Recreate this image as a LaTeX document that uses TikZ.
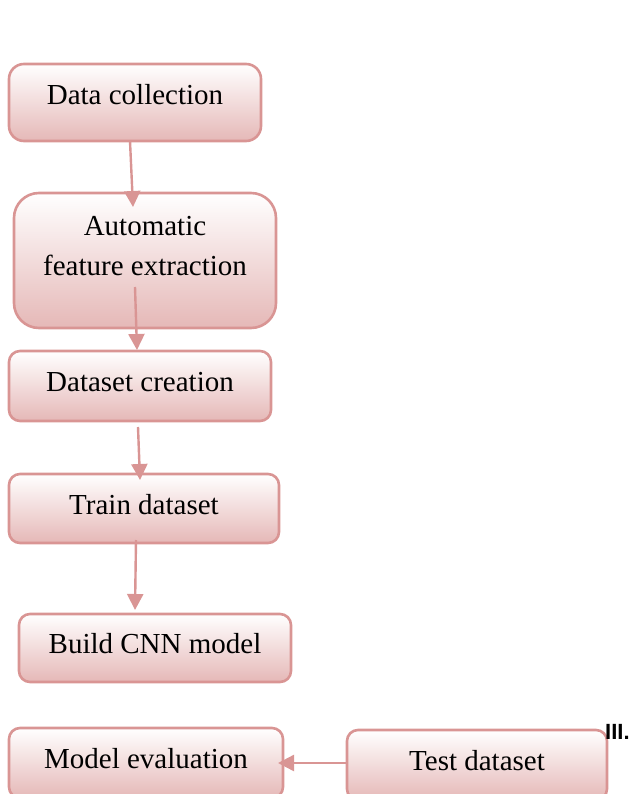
\documentclass[tikz,border=0pt]{standalone}
\usepackage{fontspec}
\setmainfont{Liberation Serif}
\newfontfamily\labsans{Liberation Sans}
\usetikzlibrary{calc,arrows.meta}
\definecolor{edgec}{RGB}{217,149,148}
\definecolor{fillb}{RGB}{229,184,183}
\tikzset{
  box/.style={draw=edgec, line width=2.6pt, top color=white, bottom color=fillb,
    inner sep=0pt, outer sep=0pt, font=\fontsize{29}{40}\selectfont, text depth=10pt},
  conn/.style={draw=edgec, line width=2.4pt, -{Triangle[length=16pt,width=16pt]}}
}
\begin{document}
\begin{tikzpicture}[x=1pt,y=-1pt]
\useasboundingbox (0,0) rectangle (632,794);
\clip (0,0) rectangle (632,794);
\node[box, minimum width=252pt, minimum height=77pt, rounded corners=15pt, text height=15pt] (dc) at (135,102.5) {Data collection};
\node[box, minimum width=262pt, minimum height=135pt, rounded corners=25pt, text height=39pt] (afe) at (145,260.5) {\begin{tabular}[b]{@{}c@{}}Automatic\\feature extraction\end{tabular}};
\node[box, minimum width=262pt, minimum height=70pt, rounded corners=11pt, text height=21.4pt] (ds) at (140,386) {Dataset creation};
\node[box, minimum width=270pt, minimum height=69pt, rounded corners=11pt, text height=21pt] (tr) at (144,508.5) {Train dataset};
\node[box, minimum width=272pt, minimum height=68pt, rounded corners=11pt, text height=20pt] (cnn) at (155,648) {Build CNN model};
\node[box, minimum width=274pt, minimum height=70pt, rounded corners=11pt, text height=20pt] (me) at (146,763) {Model evaluation};
\node[box, minimum width=260pt, minimum height=70pt, rounded corners=11pt, text height=20pt] (ts) at (477,765) {Test dataset};
\node[anchor=base west, inner sep=0pt, font=\labsans\bfseries\fontsize{22}{26}\selectfont] (sec) at (605,739) {III.};
\draw[conn] ($(dc.south)+(-5,0)$) -- ($(afe.north)+(-12,14)$);
\draw[conn] ($(afe.south)+(-10,-41)$) -- ($(ds.north)+(-3,-1)$);
\draw[conn] ($(ds.south)+(-2,6)$) -- ($(tr.north)+(-4,6)$);
\draw[conn] ($(tr.south)+(-8,-3)$) -- ($(cnn.north)+(-20,-4)$);
\draw[conn] ($(ts.west)+(0,-2)$) -- ($(me.east)+(-5,0)$);
\end{tikzpicture}
\end{document}
